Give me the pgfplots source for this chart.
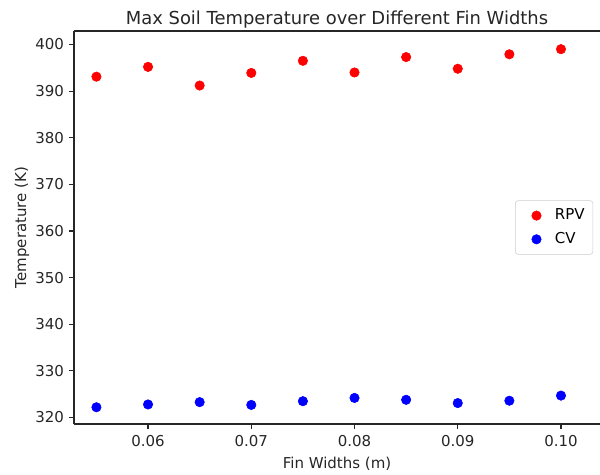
\documentclass[border=0pt]{standalone}
\usepackage{fontspec}
\setmainfont{DejaVu Sans}
\usepackage{pgfplots}
\pgfplotsset{compat=1.18}
\begin{document}
\fontsize{10.8pt}{13pt}\selectfont
\begin{tikzpicture}
\begin{axis}[
  scale only axis,
  width=378.7pt, height=283pt,
  xmin=0.05283, xmax=0.10378,
  ymin=318.6, ymax=402.9,
  axis y line*=left,
  axis line style={line width=0.8pt, black!85},
  tick align=outside,
  major tick length=3.5pt,
  tick style={line width=0.8pt, black!85},
  xtick={0.06,0.07,0.08,0.09,0.10},
  xticklabels={0.06,0.07,0.08,0.09,0.10},
  ytick={320,330,...,400},
  xtick pos=bottom,
  ytick pos=left,
  /pgf/number format/assume math mode=true,
  tick label style={font=\fontsize{10.8pt}{13pt}\selectfont, text=black!85},
  xticklabel style={yshift=-1pt},
  xlabel={Fin Widths (m)},
  ylabel={Temperature (K)},
  label style={font=\fontsize{10.8pt}{13pt}\selectfont, text=black!85},
  xlabel style={yshift=0pt},
  ylabel style={yshift=-3pt},
  title={Max Soil Temperature over Different Fin Widths},
  every axis title shift=0pt,
  title style={font=\fontsize{12.9pt}{15pt}\selectfont, text=black!85, at={(0.5,1)}, anchor=base, yshift=4.5pt},
  legend style={at={(0.987,0.5)}, anchor=east, draw=black!20, rounded corners=2pt, font=\fontsize{10.8pt}{13pt}\selectfont, row sep=3.5pt, inner xsep=4pt, inner ysep=4pt},
  legend cell align=left,
  legend image code/.code={\draw[mark repeat=2,mark phase=2,#1] plot coordinates {(-9pt,0pt) (2pt,0pt) (13pt,0pt)}; \path (-9pt,0pt) (13pt,0pt);},
]
\addplot[only marks, mark=*, mark size=3.4pt, color=red] coordinates {
(0.055,393.1) (0.060,395.2) (0.065,391.2) (0.070,393.9) (0.075,396.5)
(0.080,394.0) (0.085,397.3) (0.090,394.8) (0.095,397.9) (0.100,399.0)
};
\addlegendentry{RPV}
\addplot[only marks, mark=*, mark size=3.4pt, color=blue] coordinates {
(0.055,322.2) (0.060,322.8) (0.065,323.3) (0.070,322.7) (0.075,323.5)
(0.080,324.2) (0.085,323.8) (0.090,323.1) (0.095,323.6) (0.100,324.7)
};
\addlegendentry{CV}
\end{axis}
\pgfresetboundingbox
\path[use as bounding box] ([xshift=-53.3pt,yshift=-36pt]current axis.south west) rectangle ([yshift=22.3pt]current axis.north east);
\end{tikzpicture}
\end{document}
